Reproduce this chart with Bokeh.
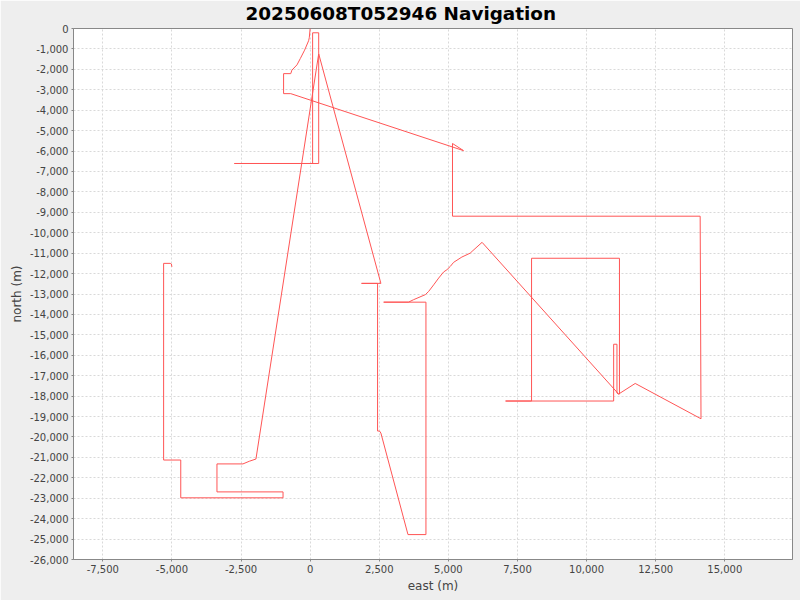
from bokeh.plotting import figure
from bokeh.models import FixedTicker, NumeralTickFormatter, Range1d
from bokeh.embed import file_html
from bokeh.resources import INLINE

# Navigation track (east, north in metres)
east = [0, -30, -55, -200, -355, -475, -660, -700, -960, -960,
        -700, 5550, 5150, 5150, 14110, 14140, 11760, 11160, 11100, 11100,
        10980, 10980, 7070, 8010, 8010, 11190, 11190, 11160, 6220, 5860,
        5790, 5490, 5190, 5070, 4950, 4830, 4650, 4470, 4290, 4170,
        3740, 3560, 2660, 4190, 4190, 3540, 2560, 2510, 2440, 2440,
        1860, 2560, 310, 310, -2740, 90, 90, 310, 310, -1960,
        -2200, -2430, -3370, -3370, -980, -980, -4680, -4680, -5300, -5300,
        -5060, -5020, -5000]
north = [0, -450, -600, -1060, -1470, -1780, -2040, -2210, -2210, -3190,
         -3190, -5980, -5630, -9190, -9190, -19110, -17380, -17900, -17850, -15460,
         -15460, -18240, -18240, -18240, -11250, -11250, -17900, -17900, -10470, -10910,
         -11000, -11190, -11450, -11650, -11810, -11920, -12220, -12550, -12870, -13030,
         -13280, -13400, -13400, -13400, -24780, -24780, -19810, -19710, -19710, -12480,
         -12480, -12480, -1240, -6610, -6610, -6610, -210, -210, -1240, -21080,
         -21190, -21320, -21320, -22690, -22690, -22980, -22980, -21130, -21130, -11500,
         -11500, -11530, -11670]

x_ticks = [-7500, -5000, -2500, 0, 2500, 5000, 7500, 10000, 12500, 15000]
y_ticks = [0, -1000, -2000, -3000, -4000, -5000, -6000, -7000, -8000, -9000,
           -10000, -11000, -12000, -13000, -14000, -15000, -16000, -17000, -18000,
           -19000, -20000, -21000, -22000, -23000, -24000, -25000, -26000]

title_text = "20250608T052946 Navigation"
x_label = "east (m)"
y_label = "north (m)"

p = figure(width=800, height=600, output_backend="svg", toolbar_location=None,
           x_range=Range1d(-8560, 17450), y_range=Range1d(-26000, 0),
           min_border_left=73, min_border_right=8, min_border_top=27,
           min_border_bottom=41,
           background_fill_color="white", border_fill_color="#EEEEEE")

p.title.text = title_text
p.title.text_font = "DejaVu Sans"
p.title.text_font_size = "18.4px"
p.title.text_font_style = "bold"
p.title.text_color = "#000000"
p.title.align = "left"
p.title.vertical_align = "top"
p.title.offset = 172
p.title.standoff = 5

p.outline_line_color = "#888888"

for ax, ticks, lab in ((p.xaxis, x_ticks, x_label), (p.yaxis, y_ticks, y_label)):
    ax.ticker = FixedTicker(ticks=ticks)
    ax.formatter = NumeralTickFormatter(format="0,0")
    ax.axis_label = lab
    ax.axis_line_color = "#888888"
    ax.major_tick_line_color = "#888888"
    ax.major_tick_in = 0
    ax.major_tick_out = 2
    ax.minor_tick_line_color = None
    ax.major_label_text_font = "DejaVu Sans"
    ax.major_label_text_font_size = "10px"
    ax.major_label_text_color = "#444444"
    ax.major_label_standoff = 3
    ax.axis_label_text_font = "DejaVu Sans"
    ax.axis_label_text_font_size = "12px"
    ax.axis_label_text_font_style = "normal"
    ax.axis_label_text_color = "#444444"
    ax.axis_label_standoff = 3

for g in (p.xgrid, p.ygrid):
    g.grid_line_color = "#D9D9D9"
    g.grid_line_dash = "2 2"
    g.grid_line_width = 1

p.line(east, north, line_color="#FF5555", line_width=1)

open("out.html", "w").write(file_html(p, INLINE))
